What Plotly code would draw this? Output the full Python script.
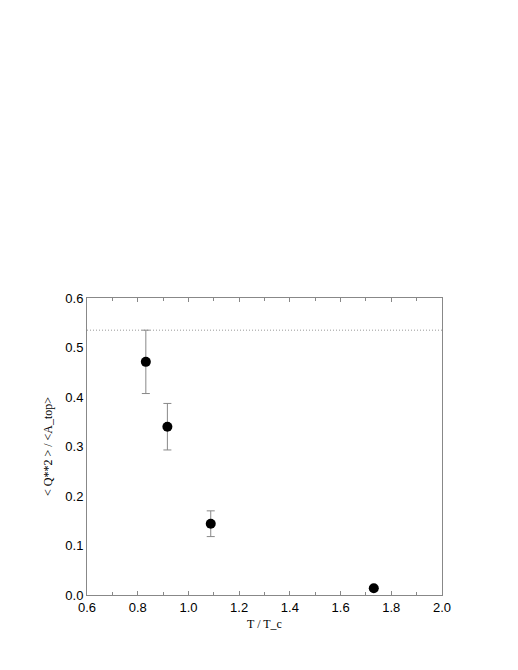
import plotly.graph_objects as go

t_ratio = [0.832, 0.917, 1.088, 1.731]
q2_ratio = [0.471, 0.340, 0.144, 0.0135]
q2_err = [0.064, 0.047, 0.026, 0.0]
ref_level = 0.535
x_range = [0.6, 2.0]

fig = go.Figure()
fig.add_trace(go.Scatter(
    x=x_range, y=[ref_level, ref_level], mode='lines',
    line=dict(color='#999999', width=1, dash='1px,2px'),
    showlegend=False, hoverinfo='skip'))
fig.add_trace(go.Scatter(
    x=t_ratio, y=q2_ratio, mode='markers',
    marker=dict(color='black', size=10),
    error_y=dict(type='data', array=q2_err, visible=True,
                 color='#888888', thickness=1, width=4),
    showlegend=False))

axis_font = dict(family='Liberation Sans, Arial, sans-serif', size=13, color='black')
title_font = dict(family='Liberation Serif, Times New Roman, serif', size=12, color='black')

fig.update_xaxes(range=x_range, dtick=0.2, tickformat='.1f',
                 ticks='inside', ticklen=4, tickcolor='#888888',
                 minor=dict(dtick=0.1, ticks='inside', ticklen=3, tickcolor='#888888'),
                 showline=True, linecolor='#888888', linewidth=1, mirror='ticks',
                 showgrid=False, zeroline=False, tickfont=axis_font,
                 title=dict(text='T / T_c', font=title_font, standoff=6))
fig.update_yaxes(range=[0, 0.6], dtick=0.1, tickformat='.1f', ticks='',
                 showline=True, linecolor='#888888', linewidth=1, mirror=True,
                 showgrid=False, zeroline=False, tickfont=axis_font,
                 title=dict(text='< Q**2 > / <A_top>', font=title_font, standoff=10))
# page body has an 8px margin, so the figure is shifted by that much
fig.update_layout(width=510, height=662, template='plotly_white',
                  plot_bgcolor='white', paper_bgcolor='white',
                  margin=dict(l=79, r=76, t=290, b=75))
fig.write_html("out.html")
